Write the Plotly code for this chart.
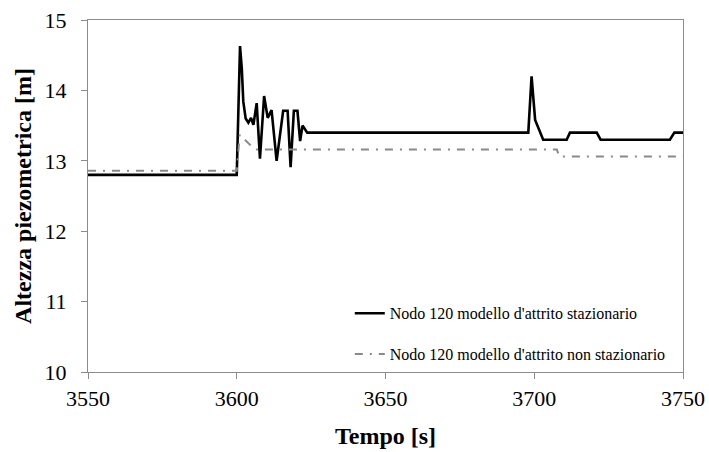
import plotly.graph_objects as go

# Stationary friction model (black)
t_staz = [3550, 3600.0, 3601.1, 3601.7, 3602.2, 3603.0, 3603.9, 3604.8, 3605.6, 3606.7,
          3607.8, 3609.2, 3610.4, 3611.7, 3613.4, 3615.6, 3617.1, 3618.1, 3619.2, 3620.4,
          3621.3, 3622.1, 3623.7, 3698.0, 3699.1, 3700.3, 3703.0, 3710.9, 3712.0, 3721.0,
          3722.3, 3745.6, 3747.1, 3750]
h_staz = [12.80, 12.80, 14.63, 14.31, 13.84, 13.60, 13.54, 13.61, 13.51, 13.82,
          13.03, 13.92, 13.61, 13.72, 13.00, 13.71, 13.71, 12.91, 13.71, 13.71,
          13.28, 13.50, 13.40, 13.40, 14.20, 13.58, 13.30, 13.30, 13.40, 13.40,
          13.30, 13.30, 13.40, 13.40]

# Non-stationary friction model (grey dash-dot)
t_nonstaz = [3550, 3600.0, 3601.0, 3602.0, 3606.1, 3707.6, 3708.4, 3750]
h_nonstaz = [12.86, 12.86, 13.37, 13.33, 13.16, 13.16, 13.06, 13.06]

x_ticks = [3550, 3600, 3650, 3700, 3750]
y_ticks = [10, 11, 12, 13, 14, 15]

FONT = "Liberation Serif, Times New Roman, serif"
AXIS_COL = "#8c8c8c"

fig = go.Figure()
fig.add_trace(go.Scatter(
    x=t_staz, y=h_staz, mode="lines",
    name="Nodo 120 modello d'attrito stazionario",
    line=dict(color="black", width=2.6),
    legendgroup="a",
))
fig.add_trace(go.Scatter(
    x=t_nonstaz, y=h_nonstaz, mode="lines",
    name="Nodo 120 modello d'attrito non stazionario",
    line=dict(color="#8a8a8a", width=2, dash="8px,7px,2px,7px"),
    legendgroup="b",
))

fig.update_layout(
    width=709, height=452,
    margin=dict(l=88, r=26, t=20, b=80),
    paper_bgcolor="white", plot_bgcolor="white",
    font=dict(family=FONT, color="black", size=22),
    showlegend=True,
    legend=dict(
        x=0.44, y=0.215, xanchor="left", yanchor="top",
        font=dict(family=FONT, size=16, color="black"),
        bgcolor="rgba(0,0,0,0)", tracegroupgap=17,
        itemwidth=30,
    ),
    xaxis=dict(
        range=[3550, 3750], tickvals=x_ticks, ticktext=[str(v) for v in x_ticks],
        showgrid=False, zeroline=False, automargin=False,
        showline=True, linecolor=AXIS_COL, linewidth=1, mirror=True,
        ticks="outside", ticklen=6, tickcolor=AXIS_COL,
        tickfont=dict(family=FONT, size=22, color="black"),
        ticklabelstandoff=1,
        title=dict(text="<b>Tempo [s]</b>", font=dict(family=FONT, size=24, color="black"), standoff=16),
    ),
    yaxis=dict(
        range=[10, 15], tickvals=y_ticks, ticktext=[str(v) for v in y_ticks],
        showgrid=False, zeroline=False, automargin=False,
        showline=True, linecolor=AXIS_COL, linewidth=1, mirror=True,
        ticks="outside", ticklen=6, tickcolor=AXIS_COL,
        tickfont=dict(family=FONT, size=22, color="black"),
        ticklabelstandoff=10,
        title=dict(text="<b>Altezza piezometrica [m]</b>", font=dict(family=FONT, size=24, color="black"), standoff=6),
    ),
)

fig.write_html("out.html", config={"displayModeBar": False},
               post_script="document.body.style.margin='0';")
